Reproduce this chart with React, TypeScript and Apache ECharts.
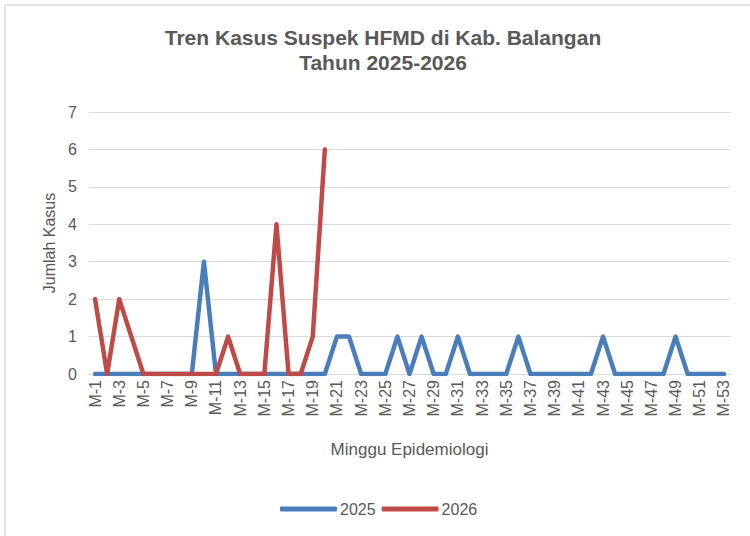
import React, { useEffect, useRef } from "react";
import * as echarts from "echarts";

const weeks: string[] = Array.from({ length: 53 }, (_, i) => `M-${i + 1}`);
const yTicks = [0, 1, 2, 3, 4, 5, 6, 7];

const series2025: number[] = [
  0, 0, 0, 0, 0, 0, 0, 0, 0, 3,
  0, 0, 0, 0, 0, 0, 0, 0, 0, 0,
  1, 1, 0, 0, 0, 1, 0, 1, 0, 0,
  1, 0, 0, 0, 0, 1, 0, 0, 0, 0,
  0, 0, 1, 0, 0, 0, 0, 0, 1, 0,
  0, 0, 0,
];
const series2026: number[] = [
  2, 0, 2, 1, 0, 0, 0, 0, 0, 0,
  0, 1, 0, 0, 0, 4, 0, 0, 1, 6,
];

const FONT = "'Liberation Sans', Arial, Helvetica, sans-serif";
const GRAY = "#595959";

export default function App() {
  const ref = useRef<HTMLDivElement>(null);
  useEffect(() => {
    if (!ref.current) return;
    const chart = echarts.init(ref.current, undefined, { renderer: "svg" });
    chart.setOption({
      animation: false,
      backgroundColor: "#ffffff",
      textStyle: { fontFamily: FONT },
      title: {
        text: "Tren Kasus Suspek HFMD di Kab. Balangan\nTahun 2025-2026",
        left: 378,
        textAlign: "center",
        top: 20,
        textStyle: {
          fontFamily: FONT,
          fontSize: 21,
          fontWeight: "bold",
          color: GRAY,
          lineHeight: 25,
        },
      },
      legend: {
        bottom: 14,
        left: 275,
        itemWidth: 57,
        itemHeight: 5,
        itemGap: 6,
        icon: "roundRect",
        textStyle: { fontFamily: FONT, fontSize: 16, color: GRAY, padding: [0, 0, 0, -2] },
        data: ["2025", "2026"],
      },
      graphic: [
        { type: "line", shape: { x1: 5, y1: 5, x2: 750, y2: 5 }, style: { stroke: "#d9d9d9", lineWidth: 1.5 } },
        { type: "line", shape: { x1: 5, y1: 5, x2: 5, y2: 536 }, style: { stroke: "#d9d9d9", lineWidth: 1.5 } },
      ],
      grid: { left: 89, right: 20, top: 112, bottom: 162, containLabel: false },
      xAxis: {
        type: "category",
        data: weeks,
        boundaryGap: true,
        name: "Minggu Epidemiologi",
        nameLocation: "middle",
        nameGap: 67,
        nameTextStyle: { fontFamily: FONT, fontSize: 17, color: GRAY },
        axisLine: { lineStyle: { color: "#d9d9d9", width: 1 } },
        axisTick: { show: false },
        axisLabel: {
          interval: 1,
          rotate: 90,
          fontFamily: FONT,
          fontSize: 16,
          color: GRAY,
          margin: 6,
        },
      },
      yAxis: {
        type: "value",
        min: 0,
        max: 7,
        interval: 1,
        name: "Jumlah Kasus",
        nameLocation: "middle",
        nameGap: 30,
        nameTextStyle: { fontFamily: FONT, fontSize: 16, color: GRAY },
        axisLine: { show: false },
        axisTick: { show: false },
        splitLine: { lineStyle: { color: "#d9d9d9", width: 1 } },
        axisLabel: {
          fontFamily: FONT,
          fontSize: 16,
          color: GRAY,
          margin: 12,
          formatter: (v: number) => (yTicks.includes(v) ? String(v) : ""),
        },
      },
      series: [
        {
          name: "2025",
          type: "line",
          data: series2025,
          symbol: "none",
          lineStyle: { color: "#4A7EBB", width: 4.5, join: "round", cap: "round" },
          itemStyle: { color: "#4A7EBB" },
          z: 2,
        },
        {
          name: "2026",
          type: "line",
          data: series2026,
          symbol: "none",
          lineStyle: { color: "#BE4B48", width: 4.5, join: "round", cap: "round" },
          itemStyle: { color: "#BE4B48" },
          z: 3,
        },
      ],
    });
    return () => chart.dispose();
  }, []);
  return <div ref={ref} style={{ width: 750, height: 536, position: "absolute", left: 0, top: 0 }} />;
}
